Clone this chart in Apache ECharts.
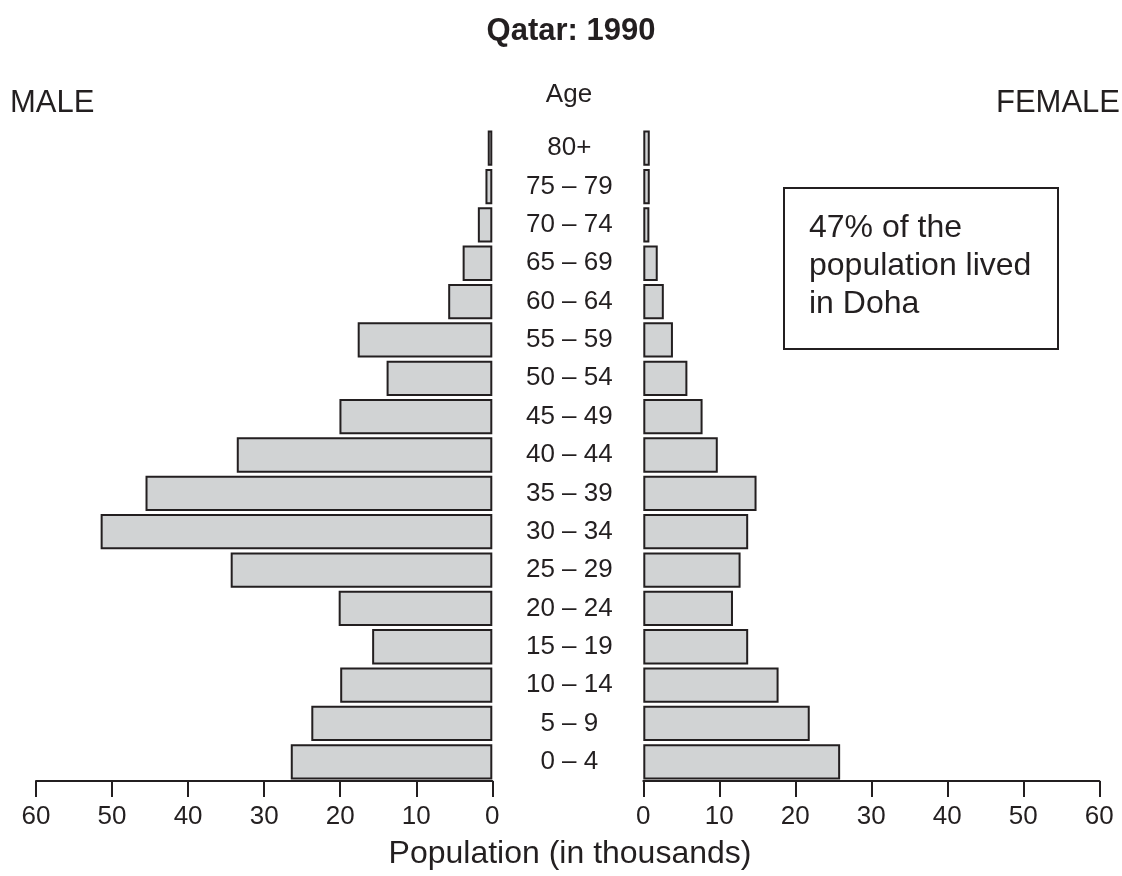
<!DOCTYPE html>
<html>
<head>
<meta charset="utf-8">
<script src="https://cdn.jsdelivr.net/npm/echarts@6/dist/echarts.min.js"></script>
<style>
html,body{margin:0;padding:0;background:#fff;}
#chart{width:1122px;height:876px;}
</style>
</head>
<body>
<div id="chart"></div>
<script>
// Age groups (bottom to top)
const ageGroups = ['0 – 4','5 – 9','10 – 14','15 – 19','20 – 24','25 – 29','30 – 34','35 – 39','40 – 44','45 – 49','50 – 54','55 – 59','60 – 64','65 – 69','70 – 74','75 – 79','80+'];
// Population in thousands
const maleValues   = [26.5, 23.8, 20.0, 15.8, 20.2, 34.4, 51.5, 45.6, 33.6, 20.1, 13.9, 17.7, 5.8, 3.9, 1.9, 0.9, 0.6];
const femaleValues = [25.9, 21.9, 17.8, 13.8, 11.8, 12.8, 13.8, 14.9, 9.8, 7.8, 5.8, 3.9, 2.7, 1.9, 0.8, 0.85, 0.85];
const xTicks = [0, 10, 20, 30, 40, 50, 60];

const FONT = '"Liberation Sans", Arial, Helvetica, sans-serif';
const INK = '#231f20';
const FILL = '#d1d3d4';

const chart = echarts.init(document.getElementById('chart'), null, {renderer: 'canvas'});

const xAxisCommon = {
  type: 'value',
  min: xTicks[0],
  max: xTicks[xTicks.length - 1],
  interval: 10,
  splitLine: {show: false},
  axisLine: {show: true, lineStyle: {color: INK, width: 2}},
  axisTick: {show: true, length: 16, lineStyle: {color: INK, width: 2}},
  axisLabel: {color: INK, fontSize: 26, fontFamily: FONT, margin: 23}
};

const barItem = {color: FILL, borderColor: INK, borderWidth: 2};

chart.setOption({
  animation: false,
  backgroundColor: '#fff',
  grid: [
    {left: 36, right: 1122 - 492.3, top: 129, bottom: 95, containLabel: false},
    {left: 643.3, right: 1122 - 1099.3, top: 129, bottom: 95, containLabel: false}
  ],
  xAxis: [
    Object.assign({gridIndex: 0, inverse: true}, xAxisCommon),
    Object.assign({gridIndex: 1}, xAxisCommon)
  ],
  yAxis: [
    {gridIndex: 0, type: 'category', data: ageGroups, position: 'right',
     axisLine: {show: false}, axisTick: {show: false}, axisLabel: {show: false}, splitLine: {show: false}},
    {gridIndex: 1, type: 'category', data: ageGroups, position: 'left',
     axisLine: {show: false}, axisTick: {show: false}, splitLine: {show: false},
     axisLabel: {show: true, color: INK, fontSize: 26, fontFamily: FONT, align: 'center', margin: 74}}
  ],
  series: [
    {type: 'bar', name: 'Male', xAxisIndex: 0, yAxisIndex: 0, data: maleValues,
     barCategoryGap: '8%', itemStyle: barItem},
    {type: 'bar', name: 'Female', xAxisIndex: 1, yAxisIndex: 1, data: femaleValues,
     barCategoryGap: '8%', itemStyle: barItem}
  ],
  graphic: [
    {type: 'text', x: 571, y: 31, style: {text: 'Qatar: 1990', fill: INK, font: 'bold 31px ' + FONT, textAlign: 'center', textVerticalAlign: 'middle'}},
    {type: 'text', x: 10, y: 103, style: {text: 'MALE', fill: INK, font: '31px ' + FONT, textAlign: 'left', textVerticalAlign: 'middle'}},
    {type: 'text', x: 1120, y: 103, style: {text: 'FEMALE', fill: INK, font: '31px ' + FONT, textAlign: 'right', textVerticalAlign: 'middle'}},
    {type: 'text', x: 569, y: 95, style: {text: 'Age', fill: INK, font: '26px ' + FONT, textAlign: 'center', textVerticalAlign: 'middle'}},
    {type: 'text', x: 570, y: 854, style: {text: 'Population (in thousands)', fill: INK, font: '32px ' + FONT, textAlign: 'center', textVerticalAlign: 'middle'}},
    {type: 'rect', shape: {x: 784, y: 188, width: 274, height: 161}, style: {fill: '#fff', stroke: INK, lineWidth: 2}},
    {type: 'text', x: 809, y: 209, style: {text: '47% of the\npopulation lived\nin Doha', fill: INK, font: '32px ' + FONT, lineHeight: 38, textAlign: 'left', textVerticalAlign: 'top'}}
  ]
});
</script>
</body>
</html>
